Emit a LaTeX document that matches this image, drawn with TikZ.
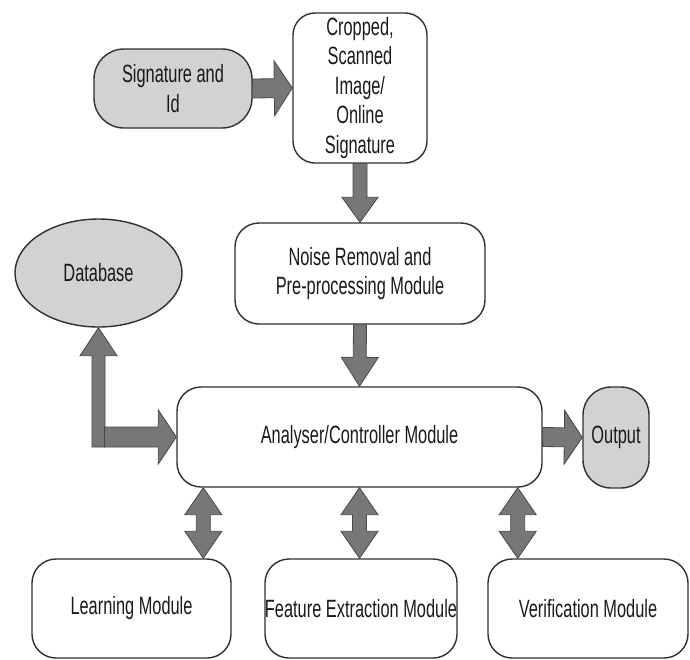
\documentclass[tikz,border=0pt]{standalone}
\usepackage{fontspec}
\setmainfont{Liberation Sans}[FakeStretch=0.655]
\usetikzlibrary{calc,shapes.geometric}
\definecolor{boxline}{HTML}{303030}
\definecolor{lightfill}{HTML}{D2D2D2}
\definecolor{arrfill}{HTML}{777777}
\definecolor{arrline}{HTML}{484848}
\definecolor{txt}{HTML}{1A1A1A}
\tikzset{
  modbox/.style={draw=boxline, line width=1.4pt, rounded corners=24pt, inner sep=0pt,
     align=center, text=txt, font=\fontsize{25}{29.5}\selectfont},
  greybox/.style={modbox, fill=lightfill},
  blockarrow/.style={fill=arrfill, draw=arrline, line width=0.8pt, line join=miter},
}
% single fat arrow: from, to, shaft half width, head half width, head length
\newcommand\fatarr[5]{%
  \coordinate (fa-c) at ($(#2)!#5!(#1)$);
  \draw[blockarrow] ($(#1)!#3!90:(#2)$) -- ($(fa-c)!#3!90:(#2)$) -- ($(fa-c)!#4!90:(#2)$)
     -- (#2) -- ($(fa-c)!#4!-90:(#2)$) -- ($(fa-c)!#3!-90:(#2)$) -- ($(#1)!#3!-90:(#2)$) -- cycle;
}
% double fat arrow: from, to, shaft half width, head half width, head length
\newcommand\dblarr[5]{%
  \coordinate (da-a) at ($(#1)!#5!(#2)$);
  \coordinate (da-b) at ($(#2)!#5!(#1)$);
  \draw[blockarrow] (#1) -- ($(da-a)!#4!90:(#2)$) -- ($(da-a)!#3!90:(#2)$)
     -- ($(da-b)!#3!90:(#2)$) -- ($(da-b)!#4!90:(#2)$) -- (#2)
     -- ($(da-b)!#4!-90:(#2)$) -- ($(da-b)!#3!-90:(#2)$)
     -- ($(da-a)!#3!-90:(#2)$) -- ($(da-a)!#4!-90:(#2)$) -- cycle;
}
\begin{document}
\begin{tikzpicture}[x=1pt,y=-1pt]
\useasboundingbox[fill=white] (0,0) rectangle (690,659);

\node[greybox, minimum width=158pt, minimum height=79pt, rounded corners=30pt] (sig) at (173,88.5) {Signature and\\Id};
\node[modbox, minimum width=134pt, minimum height=150pt, rounded corners=22pt] (crop) at (360,88) {Cropped,\\Scanned\\Image/\\Online\\Signature};
\node[modbox, minimum width=250pt, minimum height=101pt] (noise) at (360,273.5) {Noise Removal and\\Pre-processing Module};
\node[ellipse, draw=boxline, line width=1.4pt, fill=lightfill, minimum width=167pt, minimum height=108pt, inner sep=0pt, text=txt, font=\fontsize{25}{29.5}\selectfont] (db) at (98.5,273) {Database};
\node[modbox, minimum width=365pt, minimum height=100pt] (an) at (359.5,437) {Analyser/Controller Module};
\node[greybox, minimum width=66pt, minimum height=101pt, rounded corners=28pt] (out) at (616,437.5) {Output};
\node[modbox, minimum width=199pt, minimum height=99pt] (learn) at (131.5,608.5) {Learning Module};
\node[modbox, minimum width=192pt, minimum height=99pt] (feat) at (361,608.5) {Feature Extraction Module};
\node[modbox, minimum width=200pt, minimum height=99pt] (verif) at (588,608.5) {Verification Module};

% arrows
\fatarr{sig.east}{crop.west}{9.5pt}{27.5pt}{18pt}
\fatarr{crop.south}{noise.north}{7pt}{18pt}{25pt}
\fatarr{noise.south}{an.north}{6.5pt}{18.5pt}{29pt}
\fatarr{an.east}{out.west}{9.5pt}{27pt}{18pt}

\coordinate (dbcorner) at (db.south |- an.west);
\coordinate (dbbot) at ($(dbcorner)+(0,10)$);
\coordinate (dbh) at ($(dbcorner)+(6,0)$);
\fatarr{dbbot}{db.south}{6.5pt}{18.5pt}{28pt}
\fatarr{dbh}{an.west}{10pt}{27pt}{18pt}

\coordinate (l1) at ($(an.south west)+(27,0)$);
\coordinate (r1) at ($(an.south east)+(-25,0)$);
\dblarr{l1}{l1 |- learn.north}{7pt}{18.5pt}{27pt}
\dblarr{an.south}{an.south |- feat.north}{7pt}{18.5pt}{27pt}
\dblarr{r1}{r1 |- verif.north}{7pt}{18.5pt}{27pt}
\end{tikzpicture}
\end{document}
